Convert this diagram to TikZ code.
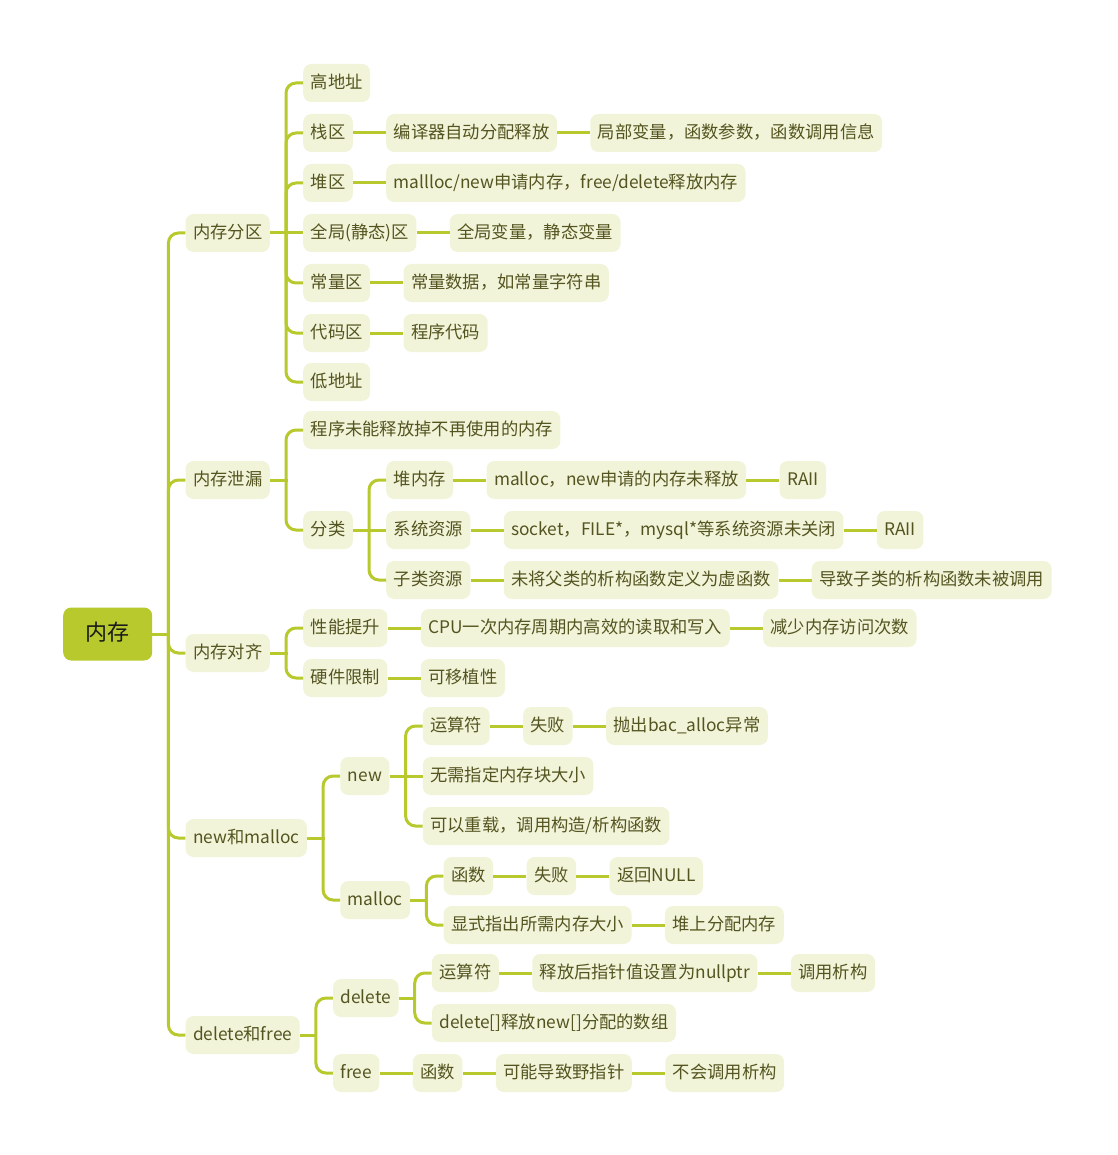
\documentclass[tikz,border=0pt]{standalone}
\usepackage{fontspec}
\setmainfont{Noto Sans CJK SC}
\usetikzlibrary{positioning,calc}

\definecolor{mmLine}{HTML}{B7C92D}
\definecolor{mmFill}{HTML}{F1F4D8}
\definecolor{mmText}{HTML}{545420}

\begin{document}
\begin{tikzpicture}[
  x=1pt,y=1pt,
  font=\fontsize{17.3}{20}\selectfont,
  box/.style={rounded corners=8pt,fill=mmFill,text=mmText,anchor=west,
              minimum height=38pt,inner xsep=7.5pt,inner ysep=0pt,
              text height=14pt,text depth=2.5pt},
  hub/.style={box,fill=mmLine,text=black!90,minimum height=53pt,minimum width=89pt,
              font=\fontsize{22}{26}\selectfont,text height=17pt,text depth=3.5pt},
  ln/.style={line width=3pt,draw=mmLine,rounded corners=10pt}
]
\useasboundingbox (0,0) rectangle (1117,-1155);

\node[hub] (mem) at (63,-634) {内存};

% first level
\node[box,right=33pt of mem,yshift=401pt] (fq) {内存分区};
\node[box,right=33pt of mem,yshift=154pt] (xl) {内存泄漏};
\node[box,right=33pt of mem,yshift=-19pt] (dq) {内存对齐};
\node[box,right=33pt of mem,yshift=-204pt] (nm) {new和malloc};
\node[box,right=33pt of mem,yshift=-401pt] (df) {delete和free};

% 内存分区
\node[box,right=33pt of fq,yshift=150pt] (gd) {高地址};
\node[box,right=33pt of fq,yshift=100pt] (zq) {栈区};
\node[box,right=33pt of zq] (zq1) {编译器自动分配释放};
\node[box,right=33pt of zq1] (zq2) {局部变量，函数参数，函数调用信息};
\node[box,right=33pt of fq,yshift=50pt] (dqu) {堆区};
\node[box,right=33pt of dqu] (dqu1) {mallloc/new申请内存，free/delete释放内存};
\node[box,right=33pt of fq] (qj) {全局(静态)区};
\node[box,right=33pt of qj] (qj1) {全局变量，静态变量};
\node[box,right=33pt of fq,yshift=-50pt] (clq) {常量区};
\node[box,right=33pt of clq] (clq1) {常量数据，如常量字符串};
\node[box,right=33pt of fq,yshift=-100pt] (dmq) {代码区};
\node[box,right=33pt of dmq] (dmq1) {程序代码};
\node[box,right=33pt of fq,yshift=-149pt] (ddz) {低地址};

% 内存泄漏
\node[box,right=33pt of xl,yshift=50pt] (xl1) {程序未能释放掉不再使用的内存};
\node[box,right=33pt of xl,yshift=-50pt] (fl) {分类};
\node[box,right=33pt of fl,yshift=50pt] (dnc) {堆内存};
\node[box,right=33pt of dnc] (dnc1) {malloc，new申请的内存未释放};
\node[box,right=33pt of dnc1] (dnc2) {RAII};
\node[box,right=33pt of fl] (xtzy) {系统资源};
\node[box,right=33pt of xtzy] (xtzy1) {socket，FILE*，mysql*等系统资源未关闭};
\node[box,right=33pt of xtzy1] (xtzy2) {RAII};
\node[box,right=33pt of fl,yshift=-50pt] (zlzy) {子类资源};
\node[box,right=33pt of zlzy] (zlzy1) {未将父类的析构函数定义为虚函数};
\node[box,right=33pt of zlzy1] (zlzy2) {导致子类的析构函数未被调用};

% 内存对齐
\node[box,right=33pt of dq,yshift=25pt] (xn) {性能提升};
\node[box,right=33pt of xn] (xn1) {CPU一次内存周期内高效的读取和写入};
\node[box,right=33pt of xn1] (xn2) {减少内存访问次数};
\node[box,right=33pt of dq,yshift=-25pt] (yj) {硬件限制};
\node[box,right=33pt of yj] (yj1) {可移植性};

% new和malloc
\node[box,right=33pt of nm,yshift=62pt] (nw) {new};
\node[box,right=33pt of nw,yshift=50pt] (nwa) {运算符};
\node[box,right=33pt of nwa] (nwa1) {失败};
\node[box,right=33pt of nwa1] (nwa2) {抛出bac\_alloc异常};
\node[box,right=33pt of nw] (nwb) {无需指定内存块大小};
\node[box,right=33pt of nw,yshift=-50pt] (nwc) {可以重载，调用构造/析构函数};
\node[box,right=33pt of nm,yshift=-62pt] (ml) {malloc};
\node[box,right=33pt of ml,yshift=24pt] (mla) {函数};
\node[box,right=33pt of mla] (mla1) {失败};
\node[box,right=33pt of mla1] (mla2) {返回NULL};
\node[box,right=33pt of ml,yshift=-25pt] (mlb) {显式指出所需内存大小};
\node[box,right=33pt of mlb] (mlb1) {堆上分配内存};

% delete和free
\node[box,right=33pt of df,yshift=37pt] (dl) {delete};
\node[box,right=33pt of dl,yshift=25pt] (dla) {运算符};
\node[box,right=33pt of dla] (dla1) {释放后指针值设置为nullptr};
\node[box,right=33pt of dla1] (dla2) {调用析构};
\node[box,right=33pt of dl,yshift=-25pt] (dlb) {delete[]释放new[]分配的数组};
\node[box,right=33pt of df,yshift=-38pt] (fr) {free};
\node[box,right=33pt of fr] (fra) {函数};
\node[box,right=33pt of fra] (fra1) {可能导致野指针};
\node[box,right=33pt of fra1] (fra2) {不会调用析构};

% brackets
\foreach \a/\b in {mem/fq,mem/xl,mem/dq,mem/nm,mem/df,
                   fq/gd,fq/zq,fq/dqu,fq/clq,fq/dmq,fq/ddz,
                   xl/xl1,xl/fl,fl/dnc,fl/zlzy,
                   dq/xn,dq/yj,
                   nm/nw,nm/ml,nw/nwa,nw/nwc,ml/mla,ml/mlb,
                   df/dl,df/fr,dl/dla,dl/dlb} {
  \draw[ln] (\a.east) -- ++(17.5pt,0);
  \draw[ln] ($(\a.east)+(16pt,0)$) |- (\b.west);
}

% straight links
\foreach \a/\b in {fq/qj,zq/zq1,zq1/zq2,dqu/dqu1,qj/qj1,clq/clq1,dmq/dmq1,
                   fl/xtzy,dnc/dnc1,dnc1/dnc2,xtzy/xtzy1,xtzy1/xtzy2,zlzy/zlzy1,zlzy1/zlzy2,
                   xn/xn1,xn1/xn2,yj/yj1,
                   nw/nwb,nwa/nwa1,nwa1/nwa2,mla/mla1,mla1/mla2,mlb/mlb1,
                   dla/dla1,dla1/dla2,fr/fra,fra/fra1,fra1/fra2}
  \draw[ln] (\a.east) -- (\b.west);

\end{tikzpicture}
\end{document}
